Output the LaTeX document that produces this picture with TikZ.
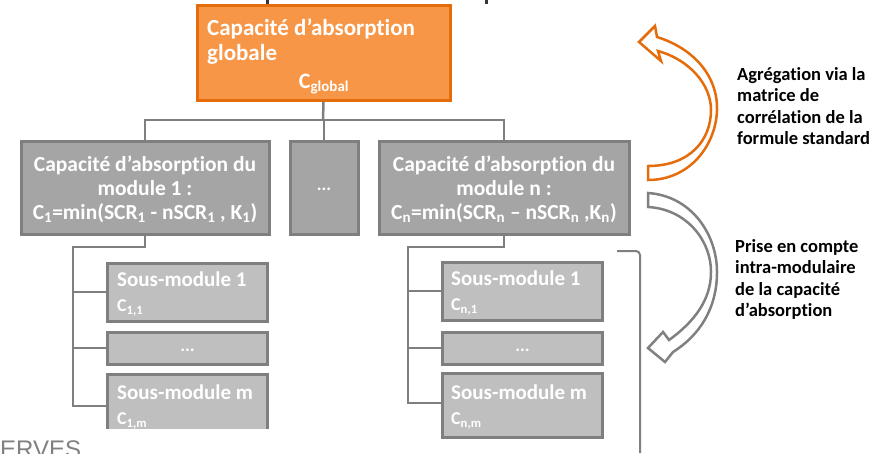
\documentclass[tikz,border=0pt]{standalone}
\usepackage{fontspec}
\setmainfont{Carlito}[Ligatures=NoCommon]
\newfontfamily\thinfont{Liberation Sans}
\definecolor{orfill}{HTML}{F79646}
\definecolor{ordraw}{HTML}{E46C0A}
\definecolor{modfill}{HTML}{A5A5A5}
\definecolor{subfill}{HTML}{BFBFBF}
\definecolor{grline}{HTML}{7F7F7F}
\definecolor{arrgray}{HTML}{808080}
\begin{document}
\begin{tikzpicture}[x=1pt,y=-1pt,
  conn/.style={draw=grline,line width=2.5pt},
  topbox/.style={draw=ordraw,fill=orfill,line width=3pt,minimum width=253pt,minimum height=95pt,inner sep=0pt},
  toptext/.style={align=left,text=white,font=\bfseries\fontsize{23}{25}\selectfont,inner sep=0pt,anchor=north west},
  modbox/.style={draw=grline,fill=modfill,line width=3pt,minimum height=93pt,align=center,text=white,font=\bfseries\fontsize{21.5}{24}\selectfont,inner sep=0pt},
  subbox/.style={draw=grline,fill=subfill,line width=3pt,minimum width=160pt,inner sep=0pt},
  subtext/.style={align=left,text=white,font=\bfseries\fontsize{21}{25}\selectfont,inner sep=0pt,anchor=north west},
  dotstext/.style={text=white,font=\bfseries\fontsize{18}{18}\selectfont,inner sep=0pt},
  sidetext/.style={align=left,anchor=north west,font=\bfseries\fontsize{18.5}{21.5}\selectfont,inner sep=0pt},
  blockarrow/.style={line width=2.5pt,line join=miter}
]
\useasboundingbox (0,0) rectangle (890,453);
\clip (0,0) rectangle (890,453);
% fragments of cut title
\draw[line width=3pt,draw={rgb,255:red,60;green,48;blue,60}] (267,0) -- (267,5);
\draw[line width=3pt,draw={rgb,255:red,60;green,48;blue,60}] (486,0) -- (486,4);
% top box
\node[topbox] (glob) at (323.5,52.5) {};
\node[toptext] (globt) at (207,19) {Capacité d’absorption\\globale};
\node[inner sep=0pt,text=white,font=\bfseries\fontsize{22}{22}\selectfont] (cglob) at (324,84) {C\textsubscript{\fontsize{15}{15}\selectfont global}};
% modules
\node[modbox,minimum width=248pt] (m1) at (145,187.5) {\rule{0pt}{20pt}Capacité d’absorption du\\module 1 :\\C\textsubscript{1}=min(SCR\textsubscript{1} - nSCR\textsubscript{1} , K\textsubscript{1})};
\node[modbox,minimum width=68pt] (md) at (324,187.5) {\raisebox{-6pt}{\fontsize{18}{18}\selectfont ...}};
\node[modbox,minimum width=250pt] (mn) at (504,187.5) {\rule{0pt}{20pt}Capacité d’absorption du\\module n :\\C\textsubscript{n}=min(SCR\textsubscript{n} – nSCR\textsubscript{n} ,K\textsubscript{n})};
% bus
\coordinate (bus) at (323,120);
\draw[conn] (glob.south) -- (bus);
\draw[conn] (m1.north) |- (bus -| mn.north) -- (mn.north);
\draw[conn] (md.north) -- (md.north |- bus);
% left submodules
\node[subbox,minimum height=58pt] (s11) at (187.5,292) {};
\node[subtext] (s11t) at (117,272) {Sous-module 1\\{\fontsize{18}{18}\selectfont C\textsubscript{1,1}}};
\node[subbox,minimum height=32pt] (s1d) at (187.5,348) {};
\node[dotstext] (s1dt) at (187.5,350) {...};
\begin{scope}
\clip (0,0) rectangle (890,428);
\node[subbox,minimum height=63pt] (s1m) at (187.5,405.5) {};
\node[subtext] (s1mt) at (117,385) {Sous-module m\\{\fontsize{18}{18}\selectfont C\textsubscript{1,m}}};
\end{scope}
\coordinate (l1a) at (73,247);
\coordinate (l1b) at (73,406);
\draw[conn,line join=miter] (m1.south) |- (l1a) -- (l1b) -- (l1b -| s1m.west);
\draw[conn] (l1a |- s11.west) -- (s11.west);
\draw[conn] (l1a |- s1d.west) -- (s1d.west);
% right submodules
\node[subbox,minimum height=58pt] (sn1) at (522.5,291) {};
\node[subtext] (sn1t) at (451,271) {Sous-module 1\\{\fontsize{18}{18}\selectfont C\textsubscript{n,1}}};
\node[subbox,minimum height=32pt] (snd) at (522.5,348) {};
\node[dotstext] (sndt) at (522.5,350) {...};
\node[subbox,minimum height=64pt] (snm) at (522.5,405) {};
\node[subtext] (snmt) at (451,385) {Sous-module m\\{\fontsize{18}{18}\selectfont C\textsubscript{n,m}}};
\coordinate (l2a) at (408,247);
\coordinate (l2b) at (408,403);
\draw[conn,line join=miter] (mn.south) |- (l2a) -- (l2b) -- (l2b -| snm.west);
\draw[conn] (l2a |- sn1.west) -- (sn1.west);
\draw[conn] (l2a |- snd.west) -- (snd.west);
% bracket
\coordinate (br1) at (617,251);
\coordinate (br2) at (640,453);
\draw[draw=arrgray,line width=2pt,rounded corners=4pt] (br1) -| (br2);
% orange curved arrow
\draw[blockarrow,draw=ordraw]
  (657,37) .. controls (698,50) and (718,80) .. (717,110)
  .. controls (716,145) and (690,180) .. (648,180) -- (648,166)
  .. controls (690,166) and (711,140) .. (711,110)
  .. controls (711,85) and (690,60) .. (658,51)
  -- (661,61) -- (639,42) -- (655,26) -- cycle;
% gray curved arrow
\draw[blockarrow,draw=arrgray]
  (648,193) .. controls (692,196) and (717,235) .. (717,272)
  .. controls (717,308) and (700,335) .. (673,352)
  -- (665,362) -- (648,348) -- (663,332) -- (669,340)
  .. controls (694,322) and (711,300) .. (711,272)
  .. controls (711,240) and (686,209) .. (648,207) -- cycle;
% side texts
\node[sidetext] (t1) at (737,67) {Agrégation via la\\matrice de\\corrélation de la\\formule standard};
\node[sidetext] (t2) at (735,239) {Prise en compte\\intra-modulaire\\de la capacité\\d’absorption};
% cut text bottom left
\node[anchor=north west,inner sep=0pt,text=arrgray,font=\thinfont\fontsize{24}{24}\selectfont] (erves) at (0,441) {ERVES};
\end{tikzpicture}
\end{document}
